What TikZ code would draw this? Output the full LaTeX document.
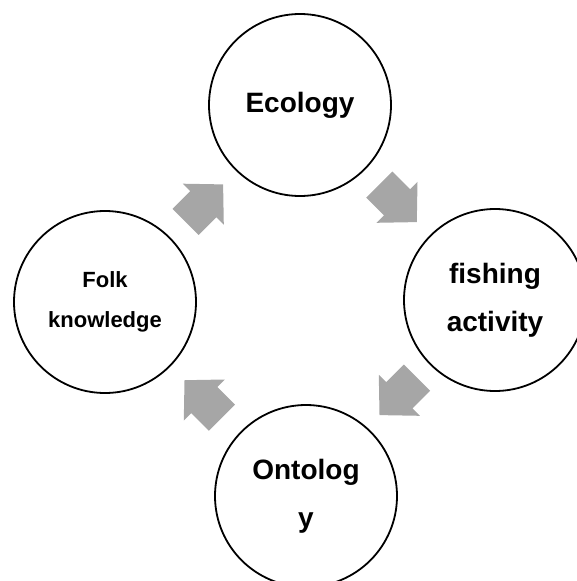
\documentclass[tikz,border=0pt]{standalone}
\usepackage{fontspec}
\setmainfont{Liberation Sans}
\definecolor{arrowgray}{HTML}{A6A6A6}
\tikzset{
  phase/.style={circle, draw=black, line width=1.8pt, minimum size=182pt, inner sep=0pt,
                align=center, font=\bfseries\fontsize{28}{48}\selectfont},
  smallphase/.style={phase, font=\bfseries\fontsize{22}{40}\selectfont},
  blockarrow/.pic={\fill[arrowgray] (-26,-18.5) -- (-1,-18.5) -- (-1,-29) -- (27,0)
                -- (-1,29) -- (-1,18.5) -- (-26,18.5) -- cycle;}
}
\begin{document}
\begin{tikzpicture}[x=1pt, y=-1pt]
\useasboundingbox (0,0) rectangle (577,581);
\node[phase] (eco) at (300,105) {Ecology};
\node[phase] (fish) at (495,300) {fishing\\activity};
\node[phase] (onto) at (306,496) {Ontolog\\y};
\node[smallphase] (folk) at (105,302) {Folk\\knowledge};
\pic[rotate=45] (a1) at (204,203.5) {blockarrow};
\pic[rotate=-45] (a2) at (397.7,203) {blockarrow};
\pic[rotate=-135] (a3) at (398.6,396) {blockarrow};
\pic[rotate=135] (a4) at (203.6,399.3) {blockarrow};
\end{tikzpicture}
\end{document}
